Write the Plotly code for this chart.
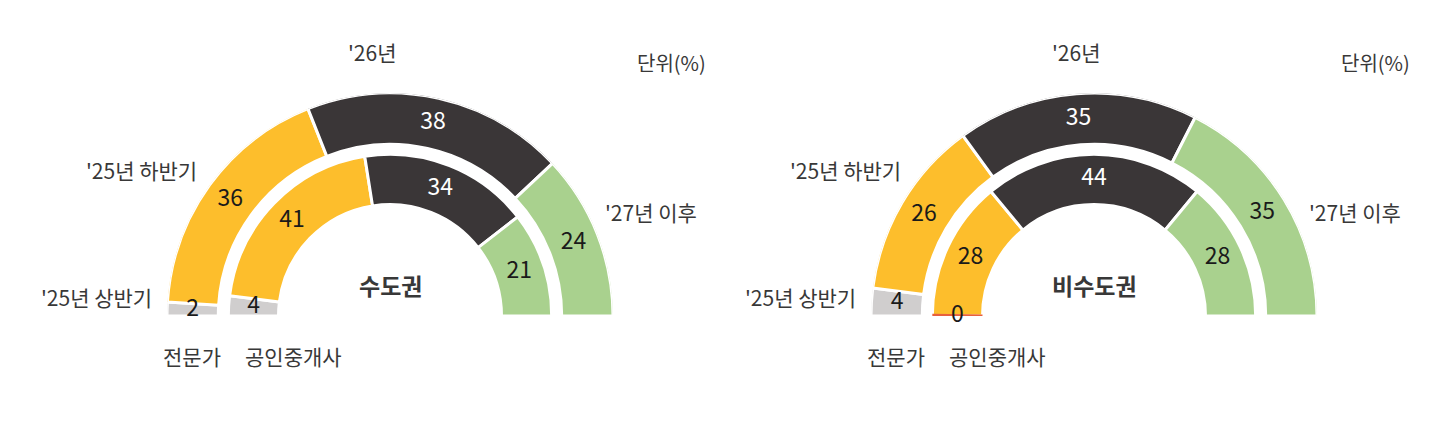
import plotly.graph_objects as go

# data
categories = ["'25년 상반기", "'25년 하반기", "'26년", "'27년 이후"]
regions = ['수도권', '비수도권']
groups = ['전문가', '공인중개사']
metro_expert = [2, 36, 38, 24]
metro_agent = [4, 41, 34, 21]
nonmetro_expert = [4, 26, 35, 35]
nonmetro_agent = [0, 28, 44, 28]
unit_label = '단위(%)'

seg_colors = ['#D0CECE', '#FDBE2C', '#3A3637', '#A9D18E']
num_colors = ['#1a1a1a', '#1a1a1a', '#ffffff', '#1a1a1a']
zero_color = '#E8603C'
label_color = '#383838'
FONT = 'Noto Sans CJK KR'

W, H = 1450, 425
PAGE_OFF = 8  # default body margin of the html page
R = 223
CY = 316 - PAGE_OFF
centers = [390 - PAGE_OFF, 1094 - PAGE_OFF]
# ring bounds as fraction of outer radius: (inner ring = 공인중개사, outer ring = 전문가)
rings = {'expert': (0.77, 1.0), 'agent': (0.5, 0.725)}


def px(x, y):
    return x / W, 1 - y / H


def ring_traces(values, ring, subplot):
    lo, hi = rings[ring]
    thetas, widths, colors = [], [], []
    zero_theta = []
    start = 0
    for v, c in zip(values, seg_colors):
        w = v * 1.8
        if v == 0:
            zero_theta.append(start + 0.4)
        else:
            thetas.append(start + w / 2)
            widths.append(w)
            colors.append(c)
        start += w
    traces = [go.Barpolar(
        theta=thetas, width=widths, r=[hi - lo] * len(thetas), base=lo,
        marker=dict(color=colors, line=dict(color='white', width=3)),
        subplot=subplot, hoverinfo='skip', showlegend=False
    )]
    if zero_theta:
        traces.append(go.Barpolar(
            theta=zero_theta, width=[0.8] * len(zero_theta),
            r=[hi - lo] * len(zero_theta), base=lo,
            marker=dict(color=zero_color, line=dict(width=0)),
            subplot=subplot, hoverinfo='skip', showlegend=False
        ))
    # value labels
    mids, start = [], 0
    for v in values:
        mids.append(start + v * 1.8 / 2)
        start += v * 1.8
    traces.append(go.Scatterpolar(
        r=[(lo + hi) / 2] * len(values), theta=mids, mode='text',
        text=[str(v) for v in values],
        textfont=dict(family=FONT, size=23, color=num_colors),
        cliponaxis=False, subplot=subplot, hoverinfo='skip', showlegend=False
    ))
    return traces


fig = go.Figure()
data = [(metro_expert, metro_agent), (nonmetro_expert, nonmetro_agent)]
annotations = []
for i, (cx, (expert, agent)) in enumerate(zip(centers, data)):
    sp = 'polar' if i == 0 else 'polar2'
    for t in ring_traces(expert, 'expert', sp) + ring_traces(agent, 'agent', sp):
        fig.add_trace(t)

    def ann(text, dx, y, xanchor='center', size=21, bold=False):
        x_p, y_p = px(cx + dx, y - PAGE_OFF)
        annotations.append(dict(
            text=f'<b>{text}</b>' if bold else text, x=x_p, y=y_p,
            xref='paper', yref='paper', xanchor=xanchor, yanchor='middle',
            showarrow=False, font=dict(family=FONT, size=size, color=label_color)
        ))

    ann(categories[2], -44, 52, 'left')
    ann(categories[1], -191, 170, 'right')
    ann(categories[0], -236, 297, 'right')
    ann(categories[3], 213, 212, 'left')
    ann(unit_label, 318, 62, 'right', size=20)
    ann(groups[0], -198, 356)
    ann(groups[1], -97, 356)
    ann(regions[i], 0, 285, size=23, bold=True)

polar_style = dict(
    sector=[0, 180], hole=0, bgcolor='rgba(0,0,0,0)', barmode='overlay',
    angularaxis=dict(rotation=180, direction='clockwise', visible=False),
    radialaxis=dict(range=[0, 1], visible=False),
)
domains = []
for cx in centers:
    domains.append(dict(x=[(cx - R) / W, (cx + R) / W], y=[(H - CY) / H, (H - CY + R) / H]))

fig.update_layout(
    width=W, height=H, autosize=False,
    margin=dict(l=0, r=0, t=0, b=0),
    paper_bgcolor='white', plot_bgcolor='white',
    polar=dict(domain=domains[0], **polar_style),
    polar2=dict(domain=domains[1], **polar_style),
    annotations=annotations,
    font=dict(family=FONT),
    showlegend=False
)

fig.write_html('out.html')
